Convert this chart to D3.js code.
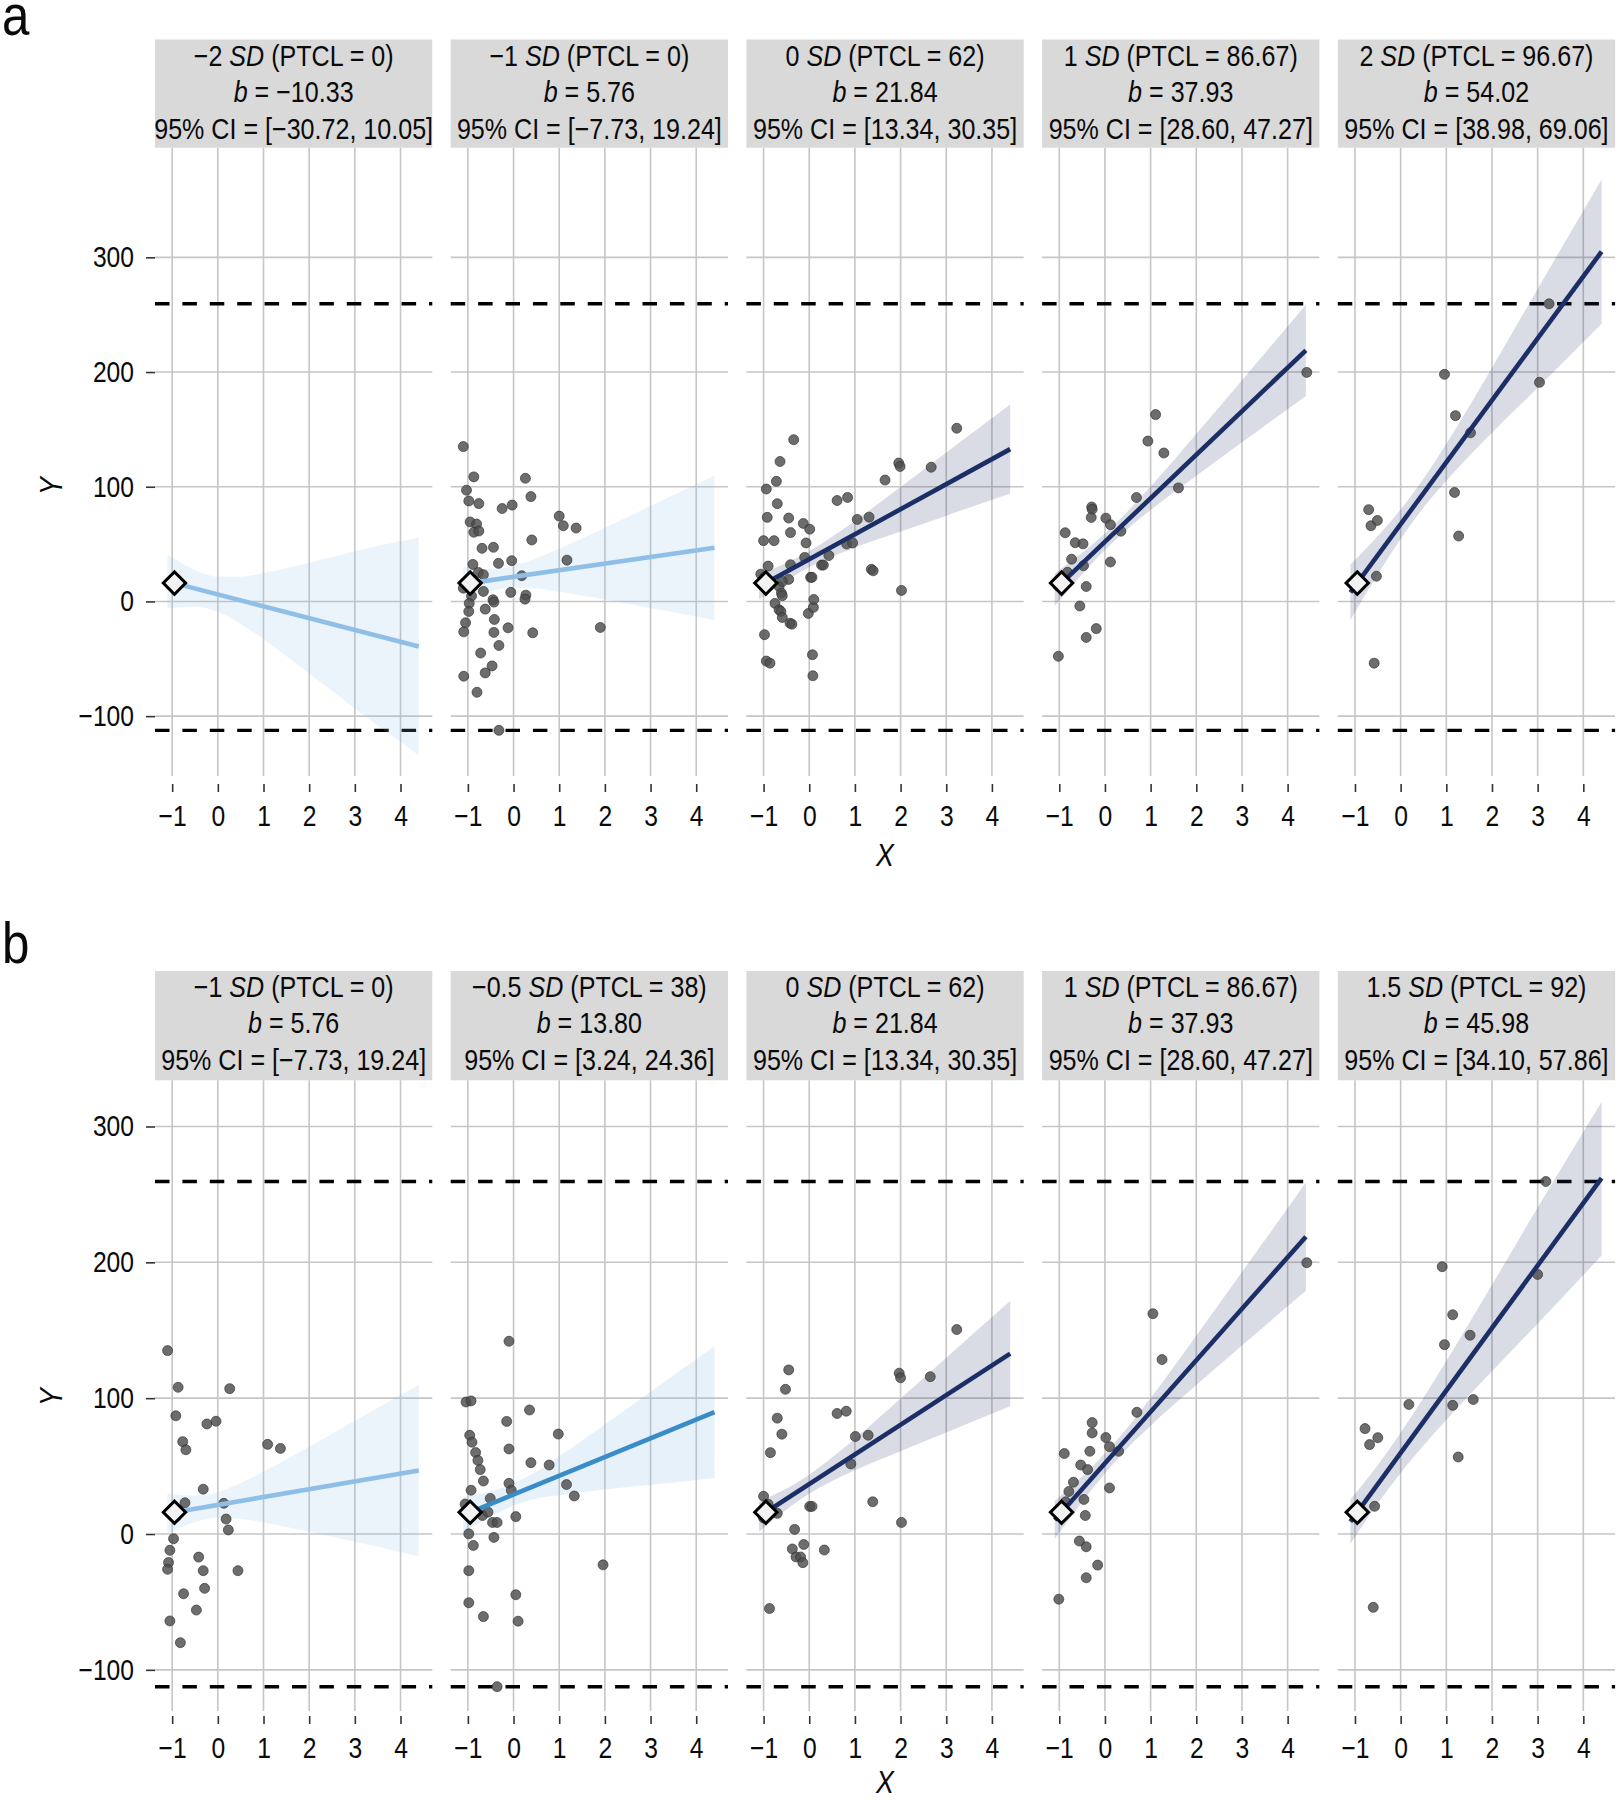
<!DOCTYPE html>
<html><head><meta charset="utf-8">
<script src="https://cdn.jsdelivr.net/npm/d3@7"></script>
<style>
body{margin:0;background:#fff}
svg text{font-family:"Liberation Sans",Arial,sans-serif;fill:#0a0a0a}
</style></head><body>
<svg id="chart" width="1619" height="1800"></svg>
<script>
// ---------------- DATA ----------------
const xTicks = [-1, 0, 1, 2, 3, 4];
const yTicks = [-100, 0, 100, 200, 300];
const xTitle = "X", yTitle = "Y";
const rowLetters = ["a", "b"];

const aSD = ["−2", "−1", "0", "1", "2"];
const aPTCL = ["0", "0", "62", "86.67", "96.67"];
const aB = ["−10.33", "5.76", "21.84", "37.93", "54.02"];
const aCI = ["[−30.72, 10.05]", "[−7.73, 19.24]", "[13.34, 30.35]", "[28.60, 47.27]", "[38.98, 69.06]"];
const aTone = ["light", "light", "dark", "dark", "dark"];

const bSD = ["−1", "−0.5", "0", "1", "1.5"];
const bPTCL = ["0", "38", "62", "86.67", "92"];
const bB = ["5.76", "13.80", "21.84", "37.93", "45.98"];
const bCI = ["[−7.73, 19.24]", "[3.24, 24.36]", "[13.34, 30.35]", "[28.60, 47.27]", "[34.10, 57.86]"];
const bTone = ["light", "mid", "dark", "dark", "dark"];

const refY = [-112.4, 259.5];          // dashed reference lines
const pivotPoint = [-0.95, 16];        // diamond marker
const fitX = [-1.10, 4.40];            // extent of the fitted lines
const aFitY = [[17.5, -39.3], [15.1, 46.8], [12.7, 132.8], [10.3, 218.9], [7.9, 305]];
const bFitY = [[15.1, 46.8], [13.9, 89.8], [12.7, 132.8], [10.3, 218.9], [9.1, 262]];

const bandX = [-1.1, -0.5, 0, 0.5, 1, 2, 3, 4.4];
const aBandHi = [
  [41.2, 27.5, 21.7, 21.6, 24.8, 33.8, 43.8, 55.7],
  [30, 28.2, 31, 37.6, 46, 64.3, 83.3, 109.9],
  [23.8, 33.5, 43.7, 56.3, 70.2, 99.8, 129.8, 171.6],
  [24.3, 42.4, 59.2, 78.6, 100.1, 146, 192.8, 258.7],
  [32.1, 57, 80.1, 106.9, 137.4, 203.7, 272.5, 367.9]];
const aBandLo = [
  [-6.2, -4.7, -9.3, -19.6, -33, -62.8, -93.4, -134],
  [0.2, 8.8, 12, 11.2, 8.4, 1.7, -5.7, -16.3],
  [1.6, 18.1, 29.7, 39.1, 47, 61, 74.8, 94],
  [-3.7, 23.6, 44.8, 63.4, 79.7, 109.6, 138.8, 179.1],
  [-16.3, 23.6, 54.5, 81.7, 105.2, 147.1, 186.3, 242.1]];
const bBandHi = [
  [30, 28.2, 31, 37.6, 46, 64.3, 83.3, 109.9],
  [26.9, 31.4, 37.2, 45.8, 57.3, 80.6, 104.7, 138.3],
  [23.8, 33.5, 43.7, 56.3, 70.2, 99.8, 129.8, 171.6],
  [24.3, 42.4, 59.2, 78.6, 100.1, 146, 192.8, 258.7],
  [25.4, 50.8, 74.5, 100.3, 127.3, 183.4, 240.3, 318]];
const bBandLo = [
  [0.2, 8.8, 12, 11.2, 8.4, 1.7, -5.7, -16.3],
  [0.9, 13, 21, 26.2, 28.5, 32.8, 36.3, 41.3],
  [1.6, 18.1, 29.7, 39.1, 47, 61, 74.8, 94],
  [-3.7, 23.6, 44.8, 63.4, 79.7, 109.6, 138.8, 179.1],
  [-7.2, 22.6, 44.9, 65.1, 83.9, 119.8, 154.9, 205]];

// observed points per panel [X, Y]
const aPts1 = [];
const aPts2 = [[-1.10,135],[-0.87,108.6],[-1.03,97],[-0.98,87.6],[-0.76,85.3],[-0.25,81],[-0.03,84],[0.26,107.4],[0.38,91.4],[-0.95,69.3],[-0.81,67.5],[-0.87,60.3],[-0.76,61.4],[-0.69,46.3],[-0.44,47.2],[0.40,53.6],[-0.89,32.3],[-0.33,33.2],[-0.04,35.5],[0.18,22.4],[-0.77,25.3],[-0.66,23.3],[-1.10,11.6],[-0.92,4.7],[-0.66,8.7],[-0.06,7.9],[0.27,5.5],[0.25,2],[-0.45,1.5],[-0.43,-0.6],[-0.97,-1.7],[-0.98,-8.7],[-0.62,-6.7],[-1.05,-18.6],[-0.42,-15.7],[-1.09,-26.5],[-0.43,-27],[-0.12,-23],[0.42,-27.4],[-0.32,-38.4],[-0.72,-45],[-0.47,-56.2],[-0.62,-62.3],[-1.09,-65.2],[-0.80,-79.2],[-0.32,-112.4],[1.0,74.4],[1.09,66],[1.37,64],[1.17,36],[1.90,-22.7]];
const aPts3 = [[-0.34,141],[-0.64,122],[-0.72,104.7],[-0.94,98],[-0.70,85.2],[-0.92,73.3],[-0.45,72.7],[-0.13,68],[0.01,63],[-0.41,60],[-1.0,53],[-0.77,53],[-0.07,51],[-0.90,30.8],[-1.06,23.8],[-0.98,21],[-0.41,32],[-0.45,19.2],[-0.66,13],[-0.59,17.4],[-0.10,38.4],[0.03,21],[0.06,21],[0.27,31.7],[0.31,31.7],[0.43,40],[-0.61,7.3],[-0.59,5],[-0.75,-1.7],[-0.66,-7.3],[-0.62,-8.7],[-0.59,-14],[-0.42,-19],[-0.38,-19.8],[-0.02,-10.5],[0.09,-5.2],[0.10,1.7],[-0.98,-29],[0.07,-46.5],[0.08,-64.8],[-0.94,-52],[-0.86,-53.8],[0.61,88],[0.84,90.7],[1.05,71.5],[1.31,73.5],[0.82,50],[0.95,51],[1.36,28],[1.40,26.7],[1.66,105.8],[1.96,120.6],[1.99,117.7],[2.67,117],[3.23,151],[2.02,9.6]];
const aPts4 = [[-1.02,-47.8],[-0.87,59.9],[-0.65,51.2],[-0.48,50.2],[-0.73,36.8],[-0.82,25.4],[-0.47,31.1],[-0.41,13],[-0.55,-4],[-0.19,-23.7],[-0.41,-31.4],[-0.29,82.3],[-0.28,80.3],[-0.30,73.2],[0.02,72.6],[0.12,66.9],[0.35,61.2],[0.12,34.4],[0.69,90.6],[0.94,139.8],[1.11,162.9],[1.29,129.4],[1.61,99],[4.42,199.7]];
const aPts5 = [[3.25,259.5],[3.04,191],[0.96,198],[1.20,162],[1.53,147],[1.18,95],[1.27,57],[-0.70,80],[-0.65,66],[-0.51,70.6],[-0.53,22],[-0.58,-53.8]];

const bPts1 = [[-1.10,135],[-0.87,108],[-0.92,87],[-0.77,68],[-0.70,62],[-0.24,81],[-0.04,83],[0.26,107],[-0.32,33],[-0.72,23],[0.13,22.6],[0.23,3],[0.18,11],[-1.0,15],[-0.92,12.5],[-0.97,-3.5],[-1.05,-12],[-1.08,-21],[-1.10,-26],[-0.42,-17],[-0.32,-27],[-0.29,-40],[0.44,-27],[-0.75,-44],[-0.47,-56],[-1.05,-64],[-0.82,-80],[1.09,66],[1.37,63]];
const bPts2 = [[-1.04,97.2],[-0.93,98],[-0.96,72.7],[-0.91,67.6],[-0.83,60],[-0.78,54.2],[-0.73,47.4],[-0.66,39],[-0.93,32.2],[-1.06,22],[-0.98,0.1],[-0.88,-8.4],[-0.98,-27],[-0.98,-50.6],[-0.66,-60.8],[-0.81,16.1],[-0.68,13.6],[-0.56,16.1],[-0.46,8.5],[-0.43,-2.5],[-0.36,8.5],[-0.51,26.2],[-0.15,82.9],[-0.10,62.6],[-0.10,37.3],[-0.05,32.2],[0.05,12.8],[0.05,-44.7],[0.10,-64.2],[-0.36,-112.4],[0.35,91.3],[0.38,52.5],[0.78,50.8],[0.98,73.6],[1.16,36.4],[1.33,28],[1.96,-22.7],[-0.10,141.9]];
const bPts3 = [[-0.45,120.8],[-0.52,106.5],[-0.70,85.3],[-0.60,73.5],[-0.85,59.9],[-1.0,27.8],[-0.90,21.9],[-0.70,15.2],[-1.0,11.8],[-0.32,3.4],[-0.37,-11],[-0.29,-16.9],[-0.19,-16.9],[-0.14,-21.1],[0.01,20.3],[0.06,20.3],[0.33,-11.8],[0.61,88.7],[0.81,90.4],[1.01,71.8],[1.29,72.7],[0.91,51.6],[1.39,23.7],[1.97,118.4],[2.0,115],[2.65,115.8],[3.23,150.5],[2.02,8.5],[-0.87,-54.9],[-0.12,-7.7]];
const bPts4 = [[-1.01,-48],[-0.89,59.2],[-0.79,31.3],[-0.53,50.8],[-0.38,47.4],[-0.46,25.4],[-0.43,13.6],[-0.69,38.1],[-0.86,23.7],[-0.28,82],[-0.28,74.4],[-0.33,60.9],[0.02,71],[0.10,64.3],[0.30,60.9],[0.10,33.9],[0.70,89.6],[1.05,162.2],[1.25,128.4],[-0.41,-9.4],[-0.56,-5.2],[-0.16,-22.9],[-0.41,-32.2],[4.42,199.7]];
const bPts5 = [[-0.78,77.6],[-0.68,65.8],[-0.50,70.9],[0.18,95.4],[0.91,196.8],[0.96,139.4],[1.14,161.4],[1.14,94.7],[1.26,56.7],[1.52,146.3],[1.59,99],[3.0,191.1],[3.18,259.5],[-0.57,20.4],[-0.60,-54]];

// ---------------- LAYOUT ----------------
const svg = d3.select("#chart");
const panelLeft0 = 155, panelW = 277.3, panelStep = 295.7;
const xDomain = [-1.376, 4.696];
const SX = 0.865, TSX = 0.85;   // horizontal condensing of the type
const toneLine = {light: "#8fbfe6", mid: "#3a8cc6", dark: "#1c2e66"};
const toneBand = {light: "#8fbfe6", mid: "#8fbfe6", dark: "#1c2e66"};
const toneBandOp = {light: 0.17, mid: 0.22, dark: 0.17};

function label(parent, x, y, size, sx) {
  return parent.append("text").attr("transform", `translate(${x},${y}) scale(${sx},1)`)
    .attr("font-size", size);
}

const rows = [
  {letter: rowLetters[0], sd: aSD, ptcl: aPTCL, b: aB, ci: aCI, tone: aTone, fitY: aFitY, hi: aBandHi, lo: aBandLo,
   pts: [aPts1, aPts2, aPts3, aPts4, aPts5],
   letterY: 35, stripTop: 39.5, stripBot: 147.7, plotBot: 776, yDomain: [-152.2, 395.6], axisY: 784, xTitleY: 866, yTitleY: 486},
  {letter: rowLetters[1], sd: bSD, ptcl: bPTCL, b: bB, ci: bCI, tone: bTone, fitY: bFitY, hi: bBandHi, lo: bBandLo,
   pts: [bPts1, bPts2, bPts3, bPts4, bPts5],
   letterY: 963, stripTop: 971, stripBot: 1080.3, plotBot: 1711, yDomain: [-130.3, 334], axisY: 1716, xTitleY: 1793, yTitleY: 1397}
];

rows.forEach(row => {
  const gRow = svg.append("g");
  label(gRow, 2, row.letterY, 57, SX).text(row.letter);

  for (let i = 0; i < 5; i++) {
    const left = panelLeft0 + i * panelStep;
    const x = d3.scaleLinear().domain(xDomain).range([left, left + panelW]);
    const y = d3.scaleLinear().domain(row.yDomain).range([row.plotBot, row.stripBot]);
    const g = gRow.append("g");

    // strip
    g.append("rect").attr("x", left).attr("y", row.stripTop).attr("width", panelW)
      .attr("height", row.stripBot - row.stripTop).attr("fill", "#d9d9d9");
    const cx = left + panelW / 2;
    const t1 = label(g, cx, row.stripTop + 26, 29, SX).attr("text-anchor", "middle");
    t1.append("tspan").text(row.sd[i] + " ");
    t1.append("tspan").attr("font-style", "italic").text("SD");
    t1.append("tspan").text(" (PTCL = " + row.ptcl[i] + ")");
    const t2 = label(g, cx, row.stripTop + 62.3, 29, SX).attr("text-anchor", "middle");
    t2.append("tspan").attr("font-style", "italic").text("b");
    t2.append("tspan").text(" = " + row.b[i]);
    label(g, cx, row.stripTop + 99, 29, SX).attr("text-anchor", "middle").text("95% CI = " + row.ci[i]);

    // grid
    g.append("g").selectAll("line").data(xTicks).join("line")
      .attr("x1", d => x(d)).attr("x2", d => x(d)).attr("y1", row.stripBot).attr("y2", row.plotBot)
      .attr("stroke", "#c6c6c6").attr("stroke-width", 1.6);
    g.append("g").selectAll("line").data(yTicks).join("line")
      .attr("x1", left).attr("x2", left + panelW).attr("y1", d => y(d)).attr("y2", d => y(d))
      .attr("stroke", "#c6c6c6").attr("stroke-width", 1.6);

    // dashed reference lines
    g.append("g").selectAll("line").data(refY).join("line")
      .attr("x1", left).attr("x2", left + panelW).attr("y1", d => y(d)).attr("y2", d => y(d))
      .attr("stroke", "#000").attr("stroke-width", 3.4).attr("stroke-dasharray", "14.5 12.9");

    // confidence band
    const band = bandX.map((bx, k) => ({x: bx, lo: row.lo[i][k], hi: row.hi[i][k]}));
    g.append("path").datum(band)
      .attr("d", d3.area().x(d => x(d.x)).y0(d => y(d.lo)).y1(d => y(d.hi)).curve(d3.curveMonotoneX))
      .attr("fill", toneBand[row.tone[i]]).attr("fill-opacity", toneBandOp[row.tone[i]]);

    // points
    g.append("g").selectAll("circle").data(row.pts[i]).join("circle")
      .attr("cx", d => x(d[0])).attr("cy", d => y(d[1])).attr("r", 5)
      .attr("fill", "#4d4d4d").attr("fill-opacity", 0.82)
      .attr("stroke", "#2e2e2e").attr("stroke-opacity", 0.7).attr("stroke-width", 0.9);

    // fitted line
    g.append("path").datum(fitX.map((fx, k) => [fx, row.fitY[i][k]]))
      .attr("d", d3.line().x(d => x(d[0])).y(d => y(d[1])))
      .attr("stroke", toneLine[row.tone[i]]).attr("stroke-width", 4.6).attr("fill", "none");

    // diamond
    g.append("path").attr("d", d3.symbol(d3.symbolSquare, 250)())
      .attr("transform", `translate(${x(pivotPoint[0])},${y(pivotPoint[1])}) rotate(45)`)
      .attr("fill", "#f2f2f2").attr("stroke", "#000").attr("stroke-width", 3);

    // x axis
    const ax = g.append("g").attr("transform", `translate(0,${row.axisY})`)
      .call(d3.axisBottom(x).tickValues(xTicks).tickSize(8).tickPadding(13).tickFormat(d3.format("d")));
    ax.select(".domain").remove();
    ax.selectAll("line").attr("stroke", "#333").attr("stroke-width", 1.6);
    ax.selectAll("text").attr("font-size", 29).attr("fill", "#0a0a0a").attr("transform", `scale(${TSX},1)`);

    if (i === 0) {
      const ay = g.append("g").attr("transform", `translate(${left},0)`)
        .call(d3.axisLeft(y).tickValues(yTicks).tickSize(9).tickPadding(12).tickFormat(d3.format("d")));
      ay.select(".domain").remove();
      ay.selectAll("line").attr("stroke", "#333").attr("stroke-width", 1.6);
      ay.selectAll("text").attr("font-size", 29).attr("fill", "#0a0a0a")
        .attr("x", -21 / TSX).attr("transform", `scale(${TSX},1)`);
    }
    if (i === 2) {
      label(g, cx, row.xTitleY, 31, SX).attr("text-anchor", "middle").attr("font-style", "italic").text(xTitle);
    }
  }
  gRow.append("text").attr("transform", `translate(62,${row.yTitleY}) rotate(-90) scale(${SX},1)`).attr("text-anchor", "middle")
    .attr("font-size", 31).attr("font-style", "italic").text(yTitle);
});
d3.selectAll("svg g").attr("font-family", null);
</script>
</body></html>
